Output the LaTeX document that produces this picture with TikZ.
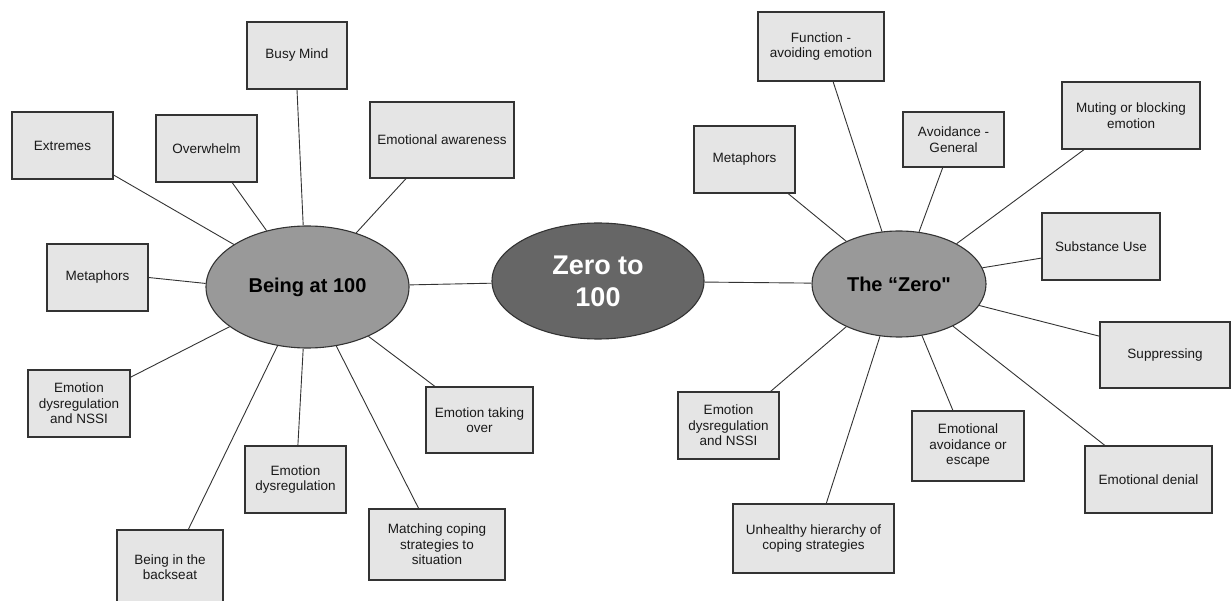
\documentclass[tikz,border=0pt]{standalone}
\usepackage{fontspec}
\setmainfont{Liberation Sans}[Ligatures=TeXOff]
\definecolor{boxgray}{RGB}{229,229,229}
\definecolor{hubgray}{RGB}{153,153,153}
\definecolor{coregray}{RGB}{102,102,102}
\definecolor{edgegray}{RGB}{51,51,51}
\usetikzlibrary{shapes.geometric}

\begin{document}
\begin{tikzpicture}[x=1pt, y=-1pt,
  topic/.style={draw=edgegray, line width=1.1pt, fill=boxgray, text=black!90,
    align=center, inner sep=2pt, minimum height=67pt,
    font=\fontsize{13.5}{15.5}\selectfont},
  hub/.style={ellipse, draw=edgegray, line width=1.1pt, fill=hubgray, inner sep=0pt,
    align=center, font=\fontsize{20}{24}\selectfont\bfseries},
  link/.style={draw=edgegray, line width=0.9pt}]

\useasboundingbox (0,0) rectangle (1231,601);

% Hubs
\node[hub, minimum width=203pt, minimum height=122pt] (being) at (307.5,287) {Being at 100};
\node[hub, fill=coregray, text=white, minimum width=212pt, minimum height=116pt,
  font=\fontsize{27}{32}\selectfont\bfseries] (zero) at (598,281) {Zero to\\100};
\node[hub, minimum width=174pt, minimum height=106pt] (thezero) at (899,284) {The “Zero"};

% Being at 100
\node[topic, minimum width=101pt] (extremes) at (62.5,145.5) {Extremes};
\node[topic, minimum width=101pt] (overwhelm) at (206.5,148.5) {Overwhelm};
\node[topic, minimum width=100pt] (busymind) at (297,55.5) {Busy Mind};
\node[topic, minimum width=144pt, minimum height=76pt] (awareness) at (442,140) {Emotional awareness};
\node[topic, minimum width=101pt] (metaphorsL) at (97.5,277.5) {Metaphors};
\node[topic, minimum width=102pt] (nssiL) at (79,403.5) {Emotion\\dysregulation\\and NSSI};
\node[topic, minimum width=101pt] (dysreg) at (295.5,479.5) {Emotion\\dysregulation};
\node[topic, minimum width=106pt, minimum height=74pt] (backseat) at (170,567) {Being in the\\backseat};
\node[topic, minimum width=136pt, minimum height=71pt] (matching) at (437,544.5) {Matching coping\\strategies to\\situation};
\node[topic, minimum width=107pt, minimum height=66pt] (takeover) at (479.5,420) {Emotion taking\\over};

% The "Zero"
\node[topic, minimum width=126pt, minimum height=69pt] (function) at (821,46.5) {Function -\\avoiding emotion};
\node[topic, minimum width=101pt] (metaphorsR) at (744.5,159.5) {Metaphors};
\node[topic, minimum width=101pt, minimum height=55pt] (avoidgen) at (953.5,139.5) {Avoidance -\\General};
\node[topic, minimum width=138pt] (muting) at (1131,115.5) {Muting or blocking\\emotion};
\node[topic, minimum width=118pt] (substance) at (1101,246.5) {Substance Use};
\node[topic, minimum width=130pt, minimum height=66pt] (suppress) at (1165,355) {Suppressing};
\node[topic, minimum width=127pt] (denial) at (1148.5,479.5) {Emotional denial};
\node[topic, minimum width=112pt, minimum height=70pt] (avoidesc) at (968,446) {Emotional\\avoidance or\\escape};
\node[topic, minimum width=161pt, minimum height=69pt] (unhealthy) at (813.5,538.5) {Unhealthy hierarchy of\\coping strategies};
\node[topic, minimum width=101pt] (nssiR) at (728.5,425.5) {Emotion\\dysregulation\\and NSSI};

% Connecting lines
\draw[link] (being) -- (zero);
\draw[link] (zero) -- (thezero);

\draw[link] (being.150) -- (extremes.-30);
\draw[link] (being.126) -- (overwhelm.-53);
\draw[link] (being.94) -- (busymind.south);
\draw[link] (being.48) -- (awareness.-133);
\draw[link] (being.178) -- (metaphorsL.east);
\draw[link] (being.207) -- (nssiL.27);
\draw[link] (being.243) -- (backseat.64);
\draw[link] (being.266) -- (dysreg.86);
\draw[link] (being.296) -- (matching.117);
\draw[link] (being.321) -- (takeover.143);

\draw[link] (thezero.141) -- (metaphorsR.-38);
\draw[link] (thezero.108) -- (function.-71);
\draw[link] (thezero.69) -- (avoidgen.-111);
\draw[link] (thezero.35) -- (muting.-144);
\draw[link] (thezero.11) -- (substance.191);
\draw[link] (thezero.-15) -- (suppress.164);
\draw[link] (thezero.-38) -- (denial.142);
\draw[link] (thezero.-66) -- (avoidesc.113);
\draw[link] (thezero.250) -- (unhealthy.70);
\draw[link] (thezero.219) -- (nssiR.39);

\end{tikzpicture}
\end{document}
